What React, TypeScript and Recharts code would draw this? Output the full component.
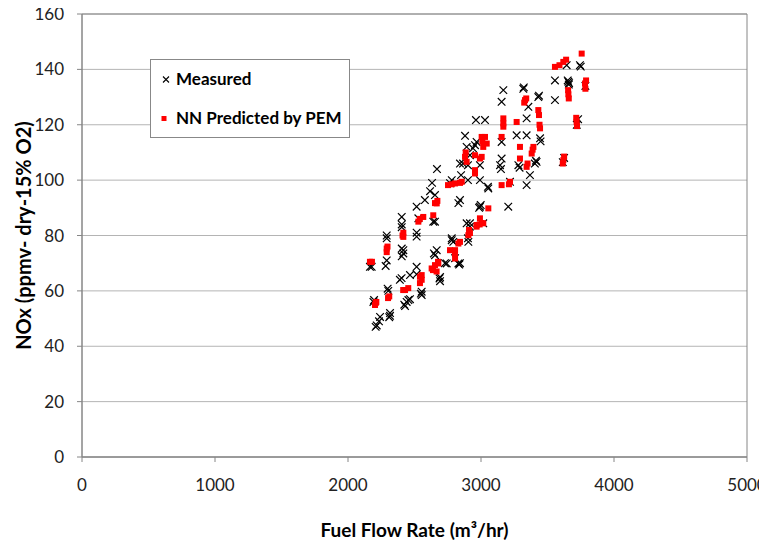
import React from 'react';
import {
  ScatterChart, Scatter, XAxis, YAxis, CartesianGrid, Legend, ReferenceArea, Label,
} from 'recharts';

// [fuel flow rate (m3/hr), NOx (ppmv)]
const measured: [number, number][] = [
  [2165, 68.7], [2178, 68.7], [2283, 69], [2291, 71], [2291, 80], [2291, 79], [2404, 86.7], [2404, 84],
  [2404, 83], [2416, 74.7], [2416, 73.5], [2404, 75.3], [2404, 72.5], [2516, 90.4], [2529, 86.2],
  [2516, 79.6], [2516, 81], [2578, 92.8], [2654, 94.6], [2641, 85], [2654, 85], [2617, 96], [2632, 99],
  [2669, 104], [2830, 91.7], [2767, 98.9], [2780, 100], [2850, 101.8], [2865, 106], [2842, 106],
  [2902, 105.4], [2917, 109], [2892, 112], [2955, 112.6], [2880, 116], [2940, 111.5], [2967, 113.8],
  [2962, 121.7], [3030, 121.7], [3155, 128.3], [3168, 132.5], [3155, 113.8], [3155, 107.8],
  [3143, 105.4], [3150, 104], [3268, 116.2], [3343, 116.2], [3281, 105.4], [3290, 104.5],
  [3343, 122.3], [3318, 133], [3322, 133.5], [3356, 126.5], [3431, 130], [3436, 130.5], [3444, 115.1],
  [3448, 114], [3418, 106.6], [3413, 107], [3405, 106], [3368, 101.8], [3343, 98.2], [3556, 136],
  [3556, 128.9], [3644, 141.5], [3744, 141.5], [3750, 141], [3657, 135.5], [3662, 135], [3652, 136],
  [3660, 134.5], [3785, 134], [3730, 122], [3720, 120], [3625, 108], [3615, 106.5], [2902, 100],
  [2992, 100], [2992, 105.4], [3052, 97.6], [3055, 97], [3218, 99.4], [2842, 92.8],
  [2208, 47], [2216, 47.5], [2233, 49], [2241, 50.6], [2316, 51], [2316, 52], [2310, 50.5],
  [2196, 56.7], [2191, 56], [2298, 60.8], [2303, 60], [2403, 64.6], [2390, 64], [2423, 55],
  [2429, 54.5], [2441, 56], [2454, 56.7], [2466, 57], [2516, 68.7], [2466, 65.7], [2554, 59.7],
  [2554, 58.5], [2548, 59], [2654, 72.9], [2646, 73.5], [2692, 65], [2692, 63.5], [2688, 64.5],
  [2780, 78.3], [2805, 71.8], [2842, 70], [2836, 69.5], [2729, 70], [2742, 69.9], [2892, 84.4],
  [2917, 84.4], [2902, 79], [2905, 77.7], [2792, 77.7], [2780, 79], [2667, 74.7], [2917, 83.2],
  [2992, 90.4], [2986, 90], [2998, 91], [3205, 90.4], [3017, 84.4], [2516, 66], [2830, 69.9],
];

const predicted: [number, number][] = [
  [2165, 70.5], [2180, 70.5], [2291, 75.3], [2291, 74], [2297, 76], [2416, 79.5], [2416, 81],
  [2410, 80], [2529, 85], [2540, 86], [2566, 86.7], [2641, 87.3], [2667, 91.6], [2672, 92.5],
  [2654, 91.7], [2752, 98.2], [2780, 98.5], [2805, 98.8], [2842, 99], [2855, 99.4], [2880, 108.4],
  [2892, 106.6], [2885, 110], [2955, 109], [2992, 107.8], [3005, 115.6], [3017, 112], [3010, 114],
  [2955, 102.4], [2955, 103.6], [3005, 108.4], [3030, 115.6], [3043, 113.2], [3155, 115.6],
  [3168, 119.3], [3168, 122.3], [3168, 120.5], [3155, 98.2], [3218, 99.4], [3210, 98.5],
  [3268, 121], [3293, 112], [3293, 107.8], [3331, 128.9], [3340, 129.5], [3325, 128], [3431, 125.3],
  [3436, 123.5], [3444, 118.7], [3440, 120], [3394, 112], [3381, 109.6], [3388, 111], [3343, 104.8],
  [3350, 106], [3556, 140.9], [3590, 141.5], [3619, 142.7], [3640, 143.5], [3757, 145.7],
  [3657, 131], [3660, 129.5], [3655, 132.5], [3782, 134.9], [3790, 136], [3785, 133], [3719, 121],
  [3722, 119.5], [3716, 122.5], [3619, 107.2], [3625, 108.5], [3615, 106],
  [2208, 55.6], [2203, 54.9], [2213, 56], [2301, 57.4], [2310, 58], [2415, 60.3], [2429, 60.3],
  [2453, 61], [2541, 62.8], [2554, 65.7], [2554, 64], [2541, 65.1], [2629, 68.1], [2639, 67.5],
  [2654, 69.3], [2677, 70.5], [2679, 69.9], [2666, 67], [2805, 74.7], [2767, 74.7], [2804, 73.5],
  [2805, 71.7], [2842, 77.7], [2830, 77.1], [2917, 80.9], [2905, 80.1], [2910, 82], [2967, 83.8],
  [2990, 84], [3005, 84.5], [3055, 89.8], [2992, 86.2], [3017, 84.4], [2967, 83.2],
];

const xTicks = [0, 1000, 2000, 3000, 4000, 5000];
const yTicks = [0, 20, 40, 60, 80, 100, 120, 140, 160];
const seriesNames = ['Measured', 'NN Predicted by PEM'];
const xTitle = 'Fuel Flow Rate (m³/hr)';
const yTitle = 'NOx (ppmv- dry-15% O2)';

const measuredData = measured.map(([flow, nox]) => ({ flow, nox }));
const predictedData = predicted.map(([flow, nox]) => ({ flow, nox }));

const FONT = 'Lato, "Open Sans", sans-serif';
const AXIS = '#868686';

const XMark = (p: any) => {
  const { cx, cy } = p;
  if (cx == null || cy == null) return <g />;
  const r = 3.8;
  return (
    <path
      d={`M${cx - r},${cy - r}L${cx + r},${cy + r}M${cx - r},${cy + r}L${cx + r},${cy - r}`}
      stroke="#000"
      strokeWidth={1.2}
      fill="none"
    />
  );
};

const SquareMark = (p: any) => {
  const { cx, cy } = p;
  if (cx == null || cy == null) return <g />;
  const s = 6;
  return <rect x={cx - s / 2} y={cy - s / 2} width={s} height={s} fill="#ff0000" />;
};

const LegendBox = () => (
  <svg width={201} height={80} style={{ display: 'block' }}>
    <rect x={0.5} y={0.5} width={199} height={78} fill="#fff" stroke="#888" strokeWidth={1} />
    <path d="M13,17.5L19,23.5M13,23.5L19,17.5" stroke="#000" strokeWidth={1.1} />
    <text x={26} y={25.5} fontFamily={FONT} fontWeight={700} fontSize={17} fill="#000">
      {seriesNames[0]}
    </text>
    <rect x={11.5} y={57} width={5} height={5} fill="#ff0000" />
    <text x={26} y={65} fontFamily={FONT} fontWeight={700} fontSize={17} fill="#000">
      {seriesNames[1]}
    </text>
  </svg>
);

export default function App() {
  return (
    <ScatterChart
      width={759}
      height={536}
      margin={{ top: 6, right: 20, left: 0, bottom: 0 }}
    >
      <CartesianGrid horizontal vertical={false} stroke="#b4b4b4" strokeWidth={1} />
      <XAxis
        type="number"
        dataKey="flow"
        domain={[0, 5000]}
        ticks={xTicks}
        interval={0}
        height={87}
        stroke={AXIS}
        tickSize={5}
        tickMargin={17}
        tick={{ fill: '#222', fontSize: 17, fontFamily: FONT }}
        allowDataOverflow
      >
        <Label
          content={(props: any) => {
            const vb = props.viewBox || { x: 74, y: 449, width: 665, height: 87 };
            return (
              <text
                x={vb.x + vb.width / 2}
                y={vb.y + 80}
                textAnchor="middle"
                fontFamily={FONT}
                fontWeight={700}
                fontSize={19}
                fill="#000"
              >
                {xTitle}
              </text>
            );
          }}
        />
      </XAxis>
      <YAxis
        type="number"
        dataKey="nox"
        domain={[0, 160]}
        ticks={yTicks}
        interval={0}
        width={74}
        stroke={AXIS}
        tickSize={5}
        tickMargin={13}
        tick={{ fill: '#222', fontSize: 17, fontFamily: FONT }}
        allowDataOverflow
      >
        <Label
          content={(props: any) => {
            const vb = props.viewBox || { x: 0, y: 6, width: 74, height: 443 };
            const x = vb.x + 23;
            const y = vb.y + vb.height / 2;
            return (
              <text
                x={x}
                y={y}
                transform={`rotate(-90, ${x}, ${y})`}
                textAnchor="middle"
                fontFamily={FONT}
                fontWeight={700}
                fontSize={20}
                fill="#000"
              >
                {yTitle}
              </text>
            );
          }}
        />
      </YAxis>
      <ReferenceArea x1={0} x2={5000} y1={0} y2={160} fill="none" stroke={AXIS} strokeWidth={1} ifOverflow="visible" />
      <Scatter
        name={seriesNames[0]}
        data={measuredData}
        shape={(p: any) => <XMark {...p} />}
        isAnimationActive={false}
      />
      <Scatter
        name={seriesNames[1]}
        data={predictedData}
        shape={(p: any) => <SquareMark {...p} />}
        isAnimationActive={false}
      />
      <Legend
        layout="horizontal"
        verticalAlign="middle"
        align="center"
        content={() => <LegendBox />}
        wrapperStyle={{ left: 142, top: 51, width: 201, height: 80 }}
      />
    </ScatterChart>
  );
}
